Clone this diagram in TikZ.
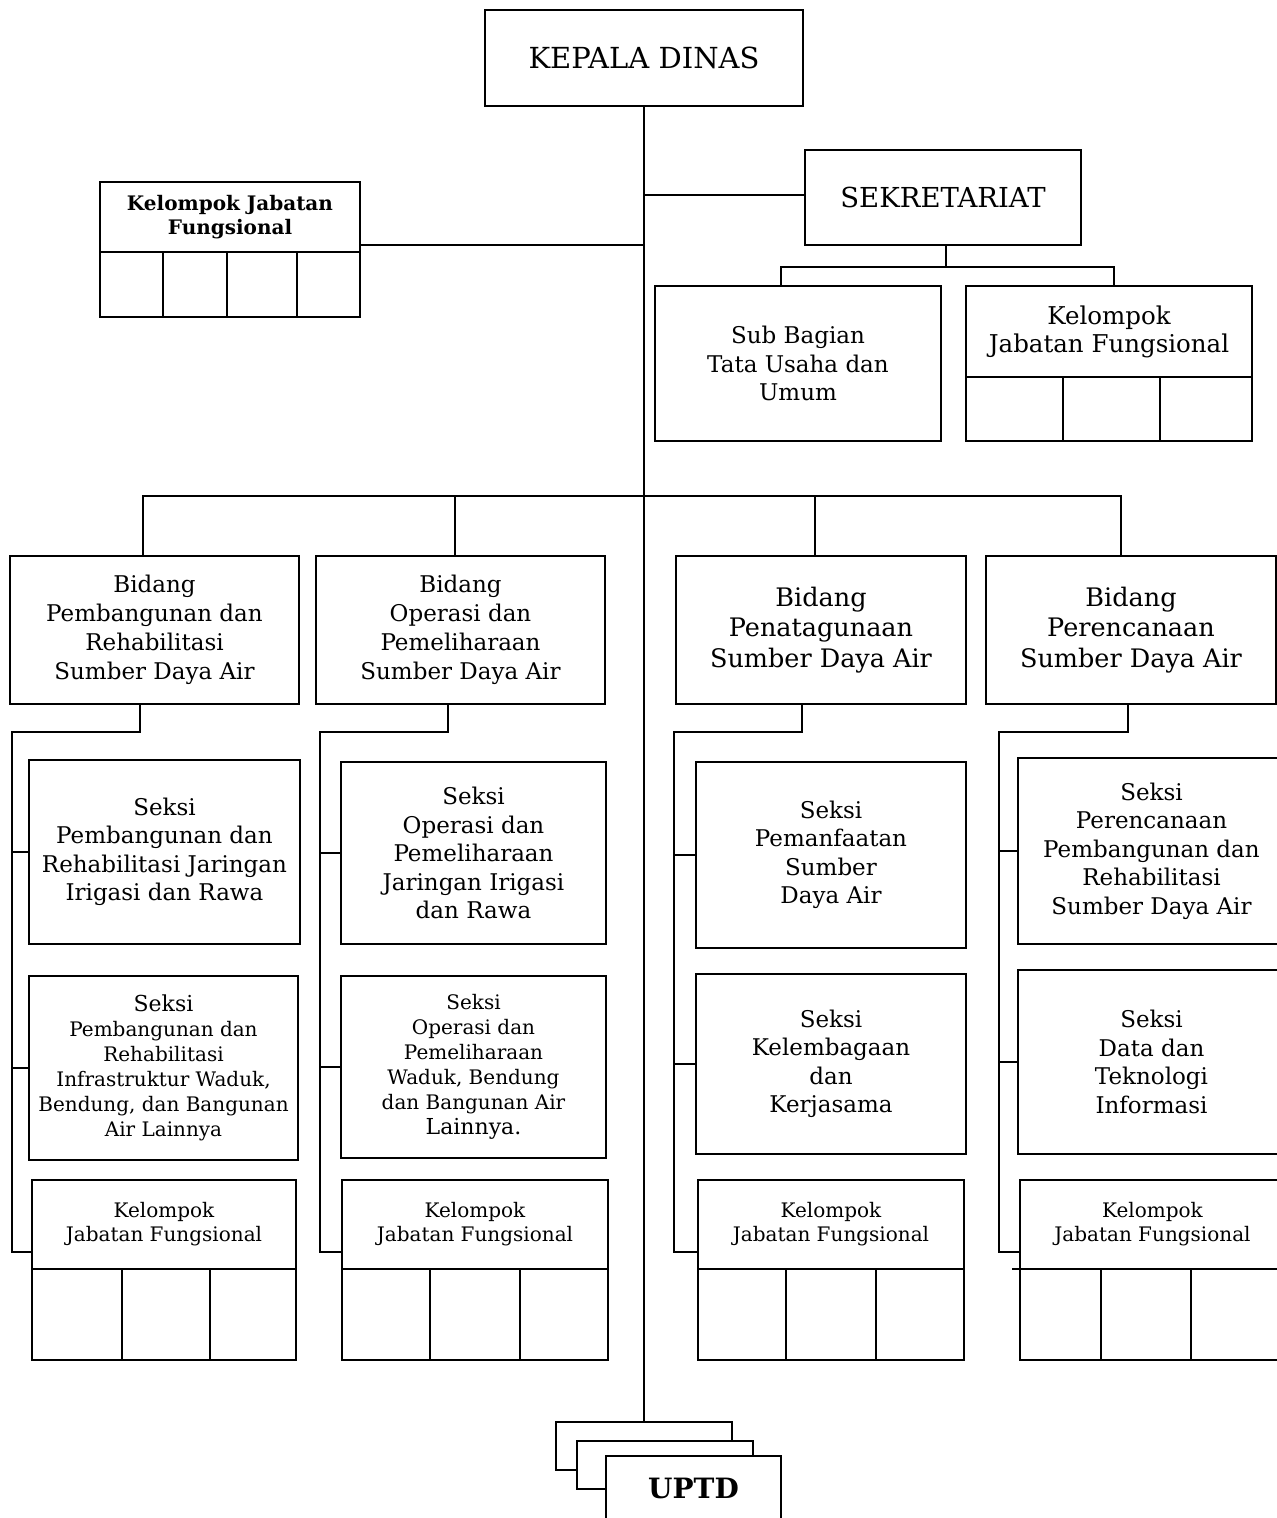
\documentclass[tikz,border=0pt]{standalone}
\usepackage{fontspec}
\setmainfont{DejaVu Serif}
\newcommand\fz[2]{\fontsize{#1}{#2}\selectfont}
% \obox{style}{name}{x1}{y1}{x2}{y2}{text}
\newcommand\obox[7]{%
  \node[unit,#1,minimum width={(#5-#3)*1pt},minimum height={(#6-#4)*1pt}]
    (#2) at ({(#3+#5)/2},{(#4+#6)/2}) {#7};}
\tikzset{
  unit/.style={draw,rectangle,inner sep=0pt,outer sep=0pt,align=center},
  seksi/.style={font=\fz{23}{28.5}},
  small/.style={font=\fz{20}{25}},
  kel/.style={font=\fz{20}{24}},
  bid/.style={font=\fz{23}{29}},
  bidl/.style={font=\fz{25.5}{30.5}}
}
\begin{document}
\begin{tikzpicture}[x=1pt,y=-1pt,line width=1.8pt]
\clip (0,0) rectangle (1277,1518);
\fill[white] (0,0) rectangle (1277,1518);

% head of office
\obox{font=\fz{29}{34}}{kd}{485}{10}{803}{106}{KEPALA DINAS}

% functional group beside the head
\obox{font=\fz{20}{24}\bfseries}{kjfL}{100}{182}{360}{252}{Kelompok Jabatan\\Fungsional}
\obox{}{kjfL1}{100}{252}{163}{317}{}
\obox{}{kjfL2}{163}{252}{227}{317}{}
\obox{}{kjfL3}{227}{252}{297}{317}{}
\obox{}{kjfL4}{297}{252}{360}{317}{}

% secretariat
\obox{font=\fz{27.5}{32}}{sek}{805}{150}{1081}{245}{SEKRETARIAT}
\obox{font=\fz{23}{28.5}}{sub}{655}{286}{941}{441}{Sub Bagian\\Tata Usaha dan\\Umum}
\obox{font=\fz{24.5}{28}}{kjfR}{966}{286}{1252}{377}{Kelompok\\Jabatan Fungsional}
\obox{}{kjfR1}{966}{377}{1063}{441}{}
\obox{}{kjfR2}{1063}{377}{1160}{441}{}
\obox{}{kjfR3}{1160}{377}{1252}{441}{}

% divisions
\obox{bid}{b1}{10}{556}{299}{704}{Bidang\\Pembangunan dan\\Rehabilitasi\\Sumber Daya Air}
\obox{bid}{b2}{316}{556}{605}{704}{Bidang\\Operasi dan\\Pemeliharaan\\Sumber Daya Air}
\obox{bidl}{b3}{676}{556}{966}{704}{Bidang\\Penatagunaan\\Sumber Daya Air}
\obox{bidl}{b4}{986}{556}{1276}{704}{Bidang\\Perencanaan\\Sumber Daya Air}

% sections, column 1
\obox{seksi}{s11}{29}{760}{300}{944}{Seksi\\Pembangunan dan\\Rehabilitasi Jaringan\\Irigasi dan Rawa}
\obox{small}{s12}{29}{976}{298}{1160}{{\fz{22}{25}Seksi}\\Pembangunan dan\\Rehabilitasi\\Infrastruktur Waduk,\\Bendung, dan Bangunan\\Air Lainnya}
\obox{kel}{k1}{32}{1180}{296}{1269}{Kelompok\\Jabatan Fungsional}
\obox{}{k11}{32}{1269}{122}{1360}{}
\obox{}{k12}{122}{1269}{210}{1360}{}
\obox{}{k13}{210}{1269}{296}{1360}{}

% sections, column 2
\obox{seksi}{s21}{341}{762}{606}{944}{Seksi\\Operasi dan\\Pemeliharaan\\Jaringan Irigasi\\dan Rawa}
\obox{small}{s22}{341}{976}{606}{1158}{Seksi\\Operasi dan\\Pemeliharaan\\Waduk, Bendung\\dan Bangunan Air\\{\fz{22}{25}Lainnya.}}
\obox{kel}{k2}{342}{1180}{608}{1269}{Kelompok\\Jabatan Fungsional}
\obox{}{k21}{342}{1269}{430}{1360}{}
\obox{}{k22}{430}{1269}{520}{1360}{}
\obox{}{k23}{520}{1269}{608}{1360}{}

% sections, column 3
\obox{seksi}{s31}{696}{762}{966}{948}{Seksi\\Pemanfaatan\\Sumber\\Daya Air}
\obox{seksi}{s32}{696}{974}{966}{1154}{Seksi\\Kelembagaan\\dan\\Kerjasama}
\obox{kel}{k3}{698}{1180}{964}{1269}{Kelompok\\Jabatan Fungsional}
\obox{}{k31}{698}{1269}{786}{1360}{}
\obox{}{k32}{786}{1269}{876}{1360}{}
\obox{}{k33}{876}{1269}{964}{1360}{}

% sections, column 4
\obox{seksi}{s41}{1018}{758}{1285}{944}{Seksi\\Perencanaan\\Pembangunan dan\\Rehabilitasi\\Sumber Daya Air}
\obox{seksi}{s42}{1018}{970}{1285}{1154}{Seksi\\Data dan\\Teknologi\\Informasi}
\obox{kel}{k4}{1020}{1180}{1285}{1269}{Kelompok\\Jabatan Fungsional}
\obox{}{k41}{1020}{1269}{1101}{1360}{}
\obox{}{k42}{1101}{1269}{1191}{1360}{}
\obox{}{k43}{1191}{1269}{1285}{1360}{}
\coordinate (k4x) at (1012,1269);
\draw (k4x) -- (k41.north west);

% technical units
\obox{}{u1}{556}{1422}{732}{1470}{}
\obox{fill=white}{u2}{577}{1441}{753}{1489}{}
\obox{fill=white,font=\fz{28}{34}\bfseries}{u3}{606}{1456}{781}{1520}{UPTD}

% main trunk
\draw (kd.south) -- (u1.north);

% side branches from the trunk
\coordinate (kjfLc) at (360,245);
\draw (kjfLc) -- (kjfLc -| kd.south);
\coordinate (sekc) at (805,195);
\draw (sekc) -- (sekc -| kd.south);

% secretariat branches
\coordinate (tsb) at (946,267);
\coordinate (ts1) at (781,286);
\coordinate (ts2) at (1114,286);
\draw (tsb |- sek.south) -- (tsb);
\draw (ts1) -- (ts1 |- tsb) -- (ts2 |- tsb) -- (ts2);

% division bar
\coordinate (bar) at (644,496);
\coordinate (d1) at (143,556);
\coordinate (d2) at (455,556);
\coordinate (d3) at (815,556);
\coordinate (d4) at (1121,556);
\draw (d1) -- (d1 |- bar) -- (d4 |- bar) -- (d4);
\draw (d2) -- (d2 |- bar);
\draw (d3) -- (d3 |- bar);

% section spines under each division
\coordinate (c1) at (140,704);  \coordinate (sp1) at (12,732);  \coordinate (t1) at (32,1252);
\coordinate (c2) at (448,704);  \coordinate (sp2) at (320,732); \coordinate (t2) at (342,1252);
\coordinate (c3) at (802,704);  \coordinate (sp3) at (674,732); \coordinate (t3) at (698,1252);
\coordinate (c4) at (1128,704); \coordinate (sp4) at (999,732); \coordinate (t4) at (1020,1252);
\foreach \i in {1,2,3,4}{
  \draw (c\i) -- (c\i |- sp\i) -- (sp\i) -- (sp\i |- t\i) -- (t\i);
  \draw (s\i1.west) -- (s\i1.west -| sp\i);
  \draw (s\i2.west) -- (s\i2.west -| sp\i);
}
\end{tikzpicture}
\end{document}
